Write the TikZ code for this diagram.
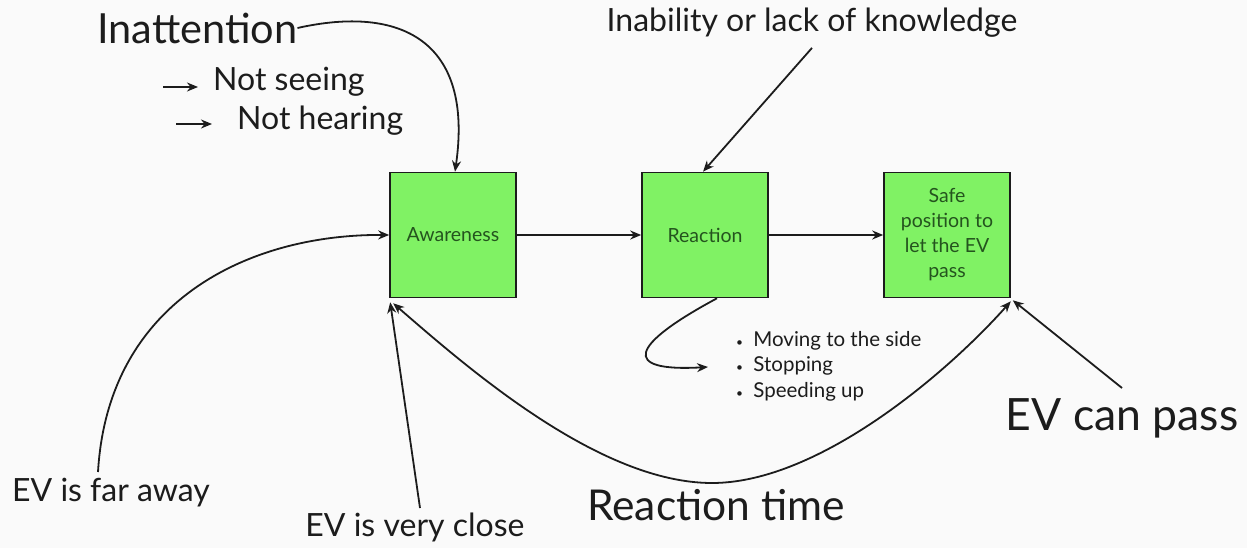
\documentclass[tikz,border=0pt]{standalone}
\usepackage{fontspec}
\setmainfont{Lato}
\usetikzlibrary{arrows.meta}
\definecolor{bg}{RGB}{250,250,250}
\definecolor{boxgreen}{RGB}{128,242,100}
\definecolor{boxtext}{RGB}{36,84,30}
\definecolor{ink}{RGB}{28,28,28}
\tikzset{
  box/.style={draw=ink, line width=1.6pt, fill=boxgreen, minimum width=126pt,
    minimum height=125pt, inner sep=0pt, align=center, text=boxtext,
    font=\fontsize{19.5}{25}\selectfont},
  bigtxt/.style={text=ink, inner sep=0pt, font=\fontsize{41.5}{48}\selectfont},
  midtxt/.style={text=ink, inner sep=0pt, font=\fontsize{32}{36}\selectfont},
  tip/.style={-{Stealth[length=11pt,width=9pt]}},
  conn/.style={draw=ink, line width=1.8pt, tip},
  bothconn/.style={draw=ink, line width=1.8pt,
    {Stealth[length=11pt,width=9pt]}-{Stealth[length=11pt,width=9pt]}},
  bulletdot/.style={},
}
\newcommand{\bul}{{\fontsize{12}{12}\selectfont\textbullet}\enspace}
\begin{document}
\begin{tikzpicture}[x=1pt,y=-1pt]
\useasboundingbox (0,0) rectangle (1247,548);
\fill[bg] (0,0) rectangle (1247,548);

% process boxes
\node[box] (aw) at (453,235) {Awareness};
\node[box] (re) at (705,235) {Reaction};
\node[box] (sf) at (947,235) {Safe\\position to\\let the EV\\pass};

% labels
\node[bigtxt, anchor=west] (inat) at (97,28) {Inattention};
\node[midtxt, anchor=west] (nsee) at (213,82) {Not seeing};
\node[midtxt, anchor=west] (nhear) at (237,121) {Not hearing};
\node[midtxt] (inab) at (812,23) {Inability or lack of knowledge};
\node[midtxt] (far) at (111,493) {EV is far away};
\node[midtxt] (close) at (415,527) {EV is very close};
\node[bigtxt, font=\fontsize{42.5}{48}\selectfont] (rtime) at (716,505) {Reaction time};
\node[bigtxt, font=\fontsize{44.5}{50}\selectfont] (pass) at (1122,418) {EV can pass};
\node[anchor=west, align=left, text=ink, inner sep=0pt,
      font=\fontsize{20.5}{25.5}\selectfont] (opts) at (736,366)
  {\bul Moving to the side\\ \bul Stopping\\ \bul Speeding up};

% free ends of connectors
\coordinate (s1) at (163,87);
\coordinate (e1) at (198,87);
\coordinate (s2) at (176,124);
\coordinate (e2) at (212,124);
\coordinate (farA) at (98,472);
\coordinate (closeA) at (420,508);
\coordinate (passA) at (1122,388);
\coordinate (optsA) at (708,367);
\coordinate (rbot) at (712,483);

% connectors
\draw[conn, line width=2.6pt] (s1) -- (e1);
\draw[conn, line width=2.6pt] (s2) -- (e2);
\draw[conn] (inat.east) .. controls (400,5) and (474,40) .. ([xshift=2pt]aw.north);
\draw[conn] ([yshift=-10pt]inab.south) -- ([xshift=-2pt]re.north);
\draw[conn] (aw.east) -- (re.west);
\draw[conn, line width=2.8pt] (re.east) -- (sf.west);
\draw[conn] (farA) .. controls (108,300) and (250,234) .. (aw.west);
\draw[conn] (closeA) -- ([xshift=1pt,yshift=-4pt]aw.south west);
\draw[bothconn] ([xshift=4pt,yshift=-5pt]aw.south west)
  .. controls (470,370) and (600,483) .. (rbot)
  .. controls (820,483) and (950,370) .. ([yshift=-3pt]sf.south east);
\draw[conn] (passA) -- ([xshift=2pt,yshift=-2pt]sf.south east);
\draw[conn] ([xshift=12pt]re.south) .. controls (630,345) and (620,372) .. (optsA);
\end{tikzpicture}
\end{document}
